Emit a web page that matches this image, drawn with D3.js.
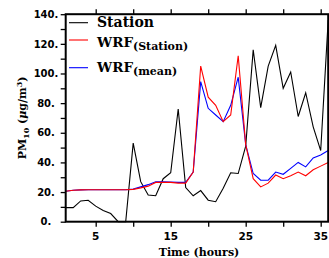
<!DOCTYPE html>
<html><head><meta charset="utf-8">
<script src="https://cdn.jsdelivr.net/npm/d3@7"></script>
<style>html,body{margin:0;padding:0;background:#fff;}svg{display:block;}</style>
</head><body>
<script>
const hours = d3.range(1, 37);
const station = [9.5,9.5,14,14.5,10.5,7.5,5.5,0,0,53,27,18,17.5,29,33,76,23,17.5,21,14.5,13.5,22.5,33,32.5,51,116,77,105,119,90,101,71,87,64,48,136];
const wrfStation = [20.5,21.2,21.5,21.6,21.6,21.6,21.6,21.6,21.6,21.8,22.8,24,26.5,26.5,26.5,26,26,33.5,105,84,78.5,67.5,72,112,52,29,23.5,26,31.5,29,31,33.5,31,35,37.5,40];
const wrfMean = [20.5,21.2,21.5,21.6,21.6,21.6,21.6,21.6,21.6,22,23.5,25,27,27,26.8,26.5,26.5,33.5,94.5,76.5,72,67.5,78.5,97.5,52,32.5,28,28,33.5,32,36,40,37,43,45,48];
const yTicks = [0,20,40,60,80,100,120,140];
const yMinor = [10,30,50,70,90,110,130];
const xTicks = [5,10,15,20,25,30,35];
const xLabels = [5,15,25,35];

const W = 329, H = 258;
const L = 65.7, R = 328.2, T = 14.2, B = 221.7;
const svg = d3.select("body").append("svg").attr("width", W).attr("height", H);
const x = d3.scaleLinear().domain([1, 36]).range([L, R]);
const y = d3.scaleLinear().domain([0, 140]).range([B, T]);

const line = (arr) => d3.line().x((d, i) => x(hours[i])).y(d => y(d))(arr);
svg.append("path").attr("d", line(station)).attr("fill", "none").attr("stroke", "#000").attr("stroke-width", 1.1);
svg.append("path").attr("d", line(wrfMean)).attr("fill", "none").attr("stroke", "#0000ff").attr("stroke-width", 1.1);
svg.append("path").attr("d", line(wrfStation)).attr("fill", "none").attr("stroke", "#ff0000").attr("stroke-width", 1.1);

// frame
svg.append("rect").attr("x", L).attr("y", T).attr("width", R - L).attr("height", B - T)
  .attr("fill", "none").attr("stroke", "#000").attr("stroke-width", 2);

// axes
const font = "DejaVu Sans";
const yAx = svg.append("g").attr("transform", `translate(${L},0)`)
  .call(d3.axisLeft(y).tickValues(yTicks.concat(yMinor)).tickSize(5).tickFormat(""));
yAx.select(".domain").remove();
yAx.selectAll("line").attr("stroke-width", 1.3);
svg.append("g").selectAll("text").data(yTicks).join("text")
  .attr("x", 46).attr("y", d => y(d) + 3.7).attr("text-anchor", "middle")
  .attr("font-family", font).attr("font-weight", "bold").attr("font-size", 10).text(d => d + ".");

const xAx = svg.append("g").attr("transform", `translate(0,${B})`)
  .call(d3.axisBottom(x).tickValues(xTicks).tickSize(5).tickFormat(""));
xAx.select(".domain").remove();
xAx.selectAll("line").attr("stroke-width", 1.3);
const xTop = svg.append("g").attr("transform", `translate(0,${T})`)
  .call(d3.axisTop(x).tickValues(xTicks).tickSize(5).tickFormat(""));
xTop.select(".domain").remove();
xTop.selectAll("line").attr("stroke-width", 1.3);
svg.append("g").selectAll("text").data(xLabels).join("text")
  .attr("x", d => x(d)).attr("y", 240).attr("text-anchor", "middle")
  .attr("font-family", font).attr("font-weight", "bold").attr("font-size", 10.5).text(d => d);

// axis titles
const serif = "DejaVu Serif";
svg.append("text").attr("x", 199).attr("y", 256).attr("text-anchor", "middle")
  .attr("font-family", serif).attr("font-weight", "bold").attr("font-size", 11).text("Time (hours)");
const yt = svg.append("text").attr("transform", `translate(26,${(T + B) / 2}) rotate(-90)`)
  .attr("text-anchor", "middle").attr("font-family", serif).attr("font-weight", "bold").attr("font-size", 11);
yt.append("tspan").text("PM");
yt.append("tspan").attr("font-size", 8).attr("dy", 3).text("10");
yt.append("tspan").attr("dy", -3).text(" (");
yt.append("tspan").attr("font-style", "italic").text("μ");
yt.append("tspan").text("g/m");
yt.append("tspan").attr("font-size", 8).attr("dy", -4).text("3");
yt.append("tspan").attr("dy", 4).text(")");

// legend
const legend = [
  {name: "Station", sub: null, color: "#000", ly: 22.7, ty: 27},
  {name: "WRF", sub: "(Station)", color: "#ff0000", ly: 40, ty: 46.5},
  {name: "WRF", sub: "(mean)", color: "#0000ff", ly: 67.7, ty: 71.5}
];
legend.forEach(d => {
  svg.append("line").attr("x1", 69).attr("x2", 88).attr("y1", d.ly).attr("y2", d.ly)
    .attr("stroke", d.color).attr("stroke-width", 1.1);
  const t = svg.append("text").attr("x", 97).attr("y", d.ty).attr("font-family", serif)
    .attr("font-weight", "bold").attr("font-size", 14);
  if (d.sub) {
    t.append("tspan").attr("font-size", 13.5).text(d.name);
    t.append("tspan").attr("font-size", 11).attr("dy", 3).text(d.sub);
  } else {
    t.text(d.name);
  }
});
</script>
</body></html>
